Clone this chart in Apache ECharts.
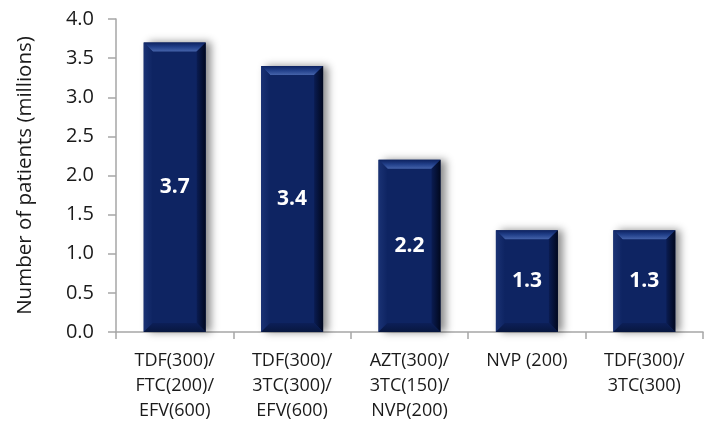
<!DOCTYPE html>
<html>
<head>
<meta charset="utf-8">
<script src="https://cdn.jsdelivr.net/npm/echarts@6/dist/echarts.min.js"></script>
<style>
  html, body { margin: 0; padding: 0; background: #ffffff; }
  #chart { width: 709px; height: 423px; }
</style>
</head>
<body>
<div id="chart"></div>
<script>
// Regimens and patient counts (millions)
const categories = [
  'TDF(300)/\nFTC(200)/\nEFV(600)',
  'TDF(300)/\n3TC(300)/\nEFV(600)',
  'AZT(300)/\n3TC(150)/\nNVP(200)',
  'NVP (200)',
  'TDF(300)/\n3TC(300)'
];
const patients = [3.7, 3.4, 2.2, 1.3, 1.3];
const yTicks = { min: 0, max: 4, interval: 0.5 };

const FONT = '"Open Sans", "Noto Sans", sans-serif';
const BAR_W = 62;
const BEVEL = 9;

const chart = echarts.init(document.getElementById('chart'));

// Draws the bevelled edges on top of each bar
function bevelItem(params, api) {
  const idx = api.value(0);
  const val = api.value(1);
  const top = api.coord([idx, val]);
  const base = api.coord([idx, 0]);
  const x0 = top[0] - BAR_W / 2, x1 = top[0] + BAR_W / 2;
  const y0 = top[1], y1 = base[1];
  const b = BEVEL;
  return {
    type: 'group',
    children: [
      { // top face
        type: 'polygon',
        shape: { points: [[x0, y0], [x1, y0], [x1 - b, y0 + b], [x0 + b, y0 + b]] },
        style: {
          fill: new echarts.graphic.LinearGradient(0, 0, 0, 1, [
            { offset: 0, color: '#0d2260' },
            { offset: 0.5, color: '#22408a' },
            { offset: 1, color: '#4563aa' }
          ])
        }
      },
      { // right face
        type: 'polygon',
        shape: { points: [[x1, y0], [x1, y1], [x1 - b, y1 - b], [x1 - b, y0 + b]] },
        style: {
          fill: new echarts.graphic.LinearGradient(0, 0, 1, 0, [
            { offset: 0, color: '#0a1c52' },
            { offset: 1, color: '#01081e' }
          ])
        }
      },
      { // left face
        type: 'polygon',
        shape: { points: [[x0, y0], [x0 + b, y0 + b], [x0 + b, y1 - b], [x0, y1]] },
        style: {
          fill: new echarts.graphic.LinearGradient(0, 0, 1, 0, [
            { offset: 0, color: '#1a3274' },
            { offset: 1, color: '#0e2462' }
          ])
        }
      },
      { // bottom face
        type: 'polygon',
        shape: { points: [[x0, y1], [x0 + b, y1 - b], [x1 - b, y1 - b], [x1, y1]] },
        style: {
          fill: new echarts.graphic.LinearGradient(0, 0, 0, 1, [
            { offset: 0, color: '#0c1f58' },
            { offset: 1, color: '#08173f' }
          ])
        }
      }
    ]
  };
}

chart.setOption({
  animation: false,
  backgroundColor: '#ffffff',
  grid: { left: 116, right: 6, top: 19, bottom: 91 },
  xAxis: {
    type: 'category',
    data: categories,
    axisLine: { lineStyle: { color: '#a6a6a6', width: 1.5 } },
    axisTick: { show: true, length: 7, alignWithLabel: false, lineStyle: { color: '#a6a6a6', width: 1.5 } },
    axisLabel: {
      color: '#1a1a1a', fontFamily: FONT, fontSize: 18, lineHeight: 25,
      margin: 16, interval: 0
    }
  },
  yAxis: {
    type: 'value',
    min: yTicks.min, max: yTicks.max, interval: yTicks.interval,
    name: 'Number of patients (millions)',
    nameLocation: 'middle',
    nameGap: 80,
    nameRotate: 90,
    nameTextStyle: { color: '#1a1a1a', fontFamily: FONT, fontSize: 20.5 },
    axisLine: { show: true, lineStyle: { color: '#a6a6a6', width: 1.5 } },
    axisTick: { show: true, length: 8, lineStyle: { color: '#a6a6a6', width: 1.5 } },
    splitLine: { show: false },
    axisLabel: {
      color: '#1a1a1a', fontFamily: FONT, fontSize: 20, margin: 22,
      formatter: v => v.toFixed(1)
    }
  },
  series: [
    {
      type: 'bar',
      data: patients,
      barWidth: BAR_W,
      itemStyle: {
        color: '#0e2462',
        shadowColor: 'rgba(0,0,0,0.45)',
        shadowBlur: 8,
        shadowOffsetX: 5,
        shadowOffsetY: 0
      },
      label: {
        show: true,
        position: 'inside',
        color: '#ffffff',
        fontFamily: FONT,
        fontWeight: 'bold',
        fontSize: 21,
        formatter: p => p.value.toFixed(1)
      },
      z: 2
    },
    {
      type: 'custom',
      renderItem: bevelItem,
      data: patients.map((v, i) => [i, v]),
      silent: true,
      z: 3
    }
  ]
});
</script>
</body>
</html>
